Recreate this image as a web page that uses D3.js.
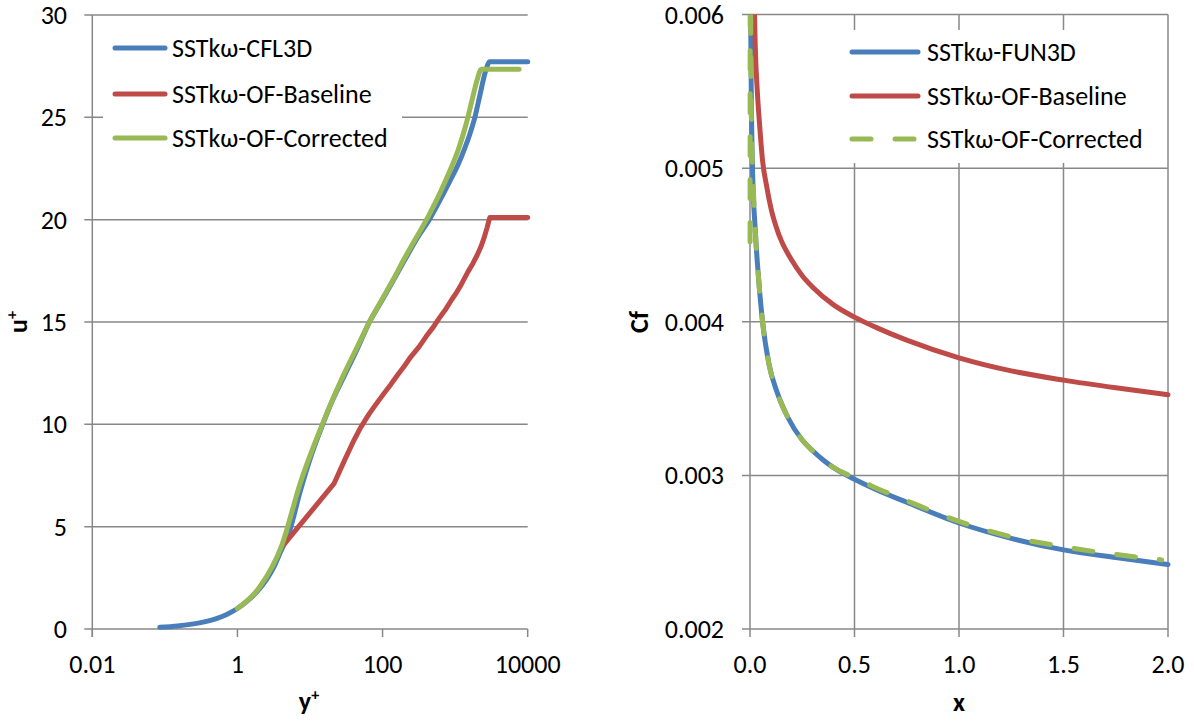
<!DOCTYPE html>
<html><head><meta charset="utf-8">
<script src="https://cdn.jsdelivr.net/npm/d3@7"></script>
<style>
body{margin:0;background:#fff}
text{font-family:Carlito,Calibri,Lato,sans-serif;fill:#000}
</style>
</head><body>
<svg id="c" width="1194" height="723"></svg>
<script>
// ---------- Left chart data: u+ vs y+ ----------
const leftNames = ["SSTkω-CFL3D", "SSTkω-OF-Baseline", "SSTkω-OF-Corrected"];
const leftYTicks = [0, 5, 10, 15, 20, 25, 30];
const leftXTicks = [0.01, 1, 100, 10000];
const cfl3d = [[0.085,0.085],[0.15,0.15],[0.3,0.3],[0.5,0.5],[0.7,0.7],[1,1],[1.4,1.4],[1.84,1.8],[2.5,2.4],[3.2,3.05],[3.85,3.7],[5.3,4.85],[7.3,6.7],[10,8.3],[15,10],[20,11.1],[30,12.4],[45,13.7],[66,15],[100,16.1],[139,17.0],[200,18.0],[300,19.1],[432,19.95],[617,20.95],[850,21.9],[1100,22.7],[1360,23.5],[1600,24.2],[1870,25.0],[2200,26.1],[2600,27.2],[3000,27.72],[10000,27.72]];
const ofBaseline1 = [[4.3,4.1],[21.4,7.1],[30,8.25],[40,9.2],[50,9.85],[65,10.5],[80,10.95],[104,11.5],[130,11.95],[160,12.4],[200,12.85],[245,13.3],[320,13.8],[400,14.3],[500,14.75],[607,15.2],[750,15.65],[900,16.1],[1050,16.45],[1200,16.8],[1500,17.45],[1750,17.85],[2000,18.25],[2250,18.65],[2500,19.1],[2750,19.6],[3000,20.1],[10000,20.1]];
const ofCorrected1 = [[1,1],[1.98,2.0],[4.1,4.1],[7.3,7.1],[15.2,10.1],[28,12.3],[45,13.8],[66,15],[100,16.15],[139,17.05],[200,18.1],[300,19.2],[432,20.2],[617,21.3],[850,22.4],[1100,23.4],[1400,24.6],[1700,25.8],[2000,26.8],[2300,27.35],[7600,27.35]];

// ---------- Right chart data: Cf vs x ----------
const rightNames = ["SSTkω-FUN3D", "SSTkω-OF-Baseline", "SSTkω-OF-Corrected"];
const rightYTicks = [0.002, 0.003, 0.004, 0.005, 0.006];
const rightXTicks = [0.0, 0.5, 1.0, 1.5, 2.0];
const fun3d = [[0.0,0.0064],[0.003,0.0060],[0.006,0.0055],[0.012,0.0050],[0.025,0.0046],[0.04,0.0043],[0.06,0.0040],[0.09,0.00373],[0.13,0.00354],[0.18,0.00338],[0.25,0.00323],[0.3,0.00316],[0.35,0.00310],[0.4,0.00305],[0.5,0.002975],[0.6,0.00291],[0.75,0.002825],[1.0,0.00269],[1.25,0.00259],[1.5,0.002515],[1.75,0.002465],[2.0,0.00242]];
const ofBaseline2 = [[0.02,0.0061],[0.025,0.0058],[0.035,0.0055],[0.045,0.0053],[0.06,0.00505],[0.08,0.00488],[0.1,0.00474],[0.14,0.00456],[0.2,0.00440],[0.25,0.00430],[0.3,0.004225],[0.4,0.00411],[0.5,0.00403],[0.6,0.003965],[0.75,0.00388],[1.0,0.003765],[1.25,0.00368],[1.5,0.00362],[1.75,0.00357],[2.0,0.003525]];
const ofCorrected2 = [[0.0003,0.00452],[0.0015,0.0068],[0.004,0.0058],[0.008,0.0052],[0.015,0.0049],[0.025,0.0046],[0.04,0.0043],[0.06,0.0040],[0.09,0.00373],[0.13,0.00354],[0.18,0.00338],[0.25,0.00323],[0.3,0.00316],[0.35,0.00310],[0.4,0.00305],[0.5,0.002985],[0.6,0.00292],[0.75,0.002835],[1.0,0.0027],[1.25,0.0026],[1.5,0.002535],[1.75,0.002485],[1.97,0.00245]];

const colors = ["#4A7EBB", "#BE4B48", "#98B954"];
const gridColor = "#888888";
const FS = 26;

const svg = d3.select("#c");

// ================= LEFT =================
const xL = d3.scaleLog().domain([0.01, 10000]).range([92.3, 527.7]);
const yL = d3.scaleLinear().domain([0, 30]).range([629, 15]);

const gL = svg.append("g");
gL.selectAll("line.h").data(leftYTicks).join("line")
  .attr("x1", xL.range()[0] - 8).attr("x2", xL.range()[1])
  .attr("y1", d => yL(d)).attr("y2", d => yL(d))
  .attr("stroke", gridColor).attr("stroke-width", 1.5);
gL.append("line").attr("x1", xL.range()[0]).attr("x2", xL.range()[0])
  .attr("y1", yL(30)).attr("y2", yL(0) + 8)
  .attr("stroke", gridColor).attr("stroke-width", 1.5);
gL.selectAll("line.t").data(leftXTicks).join("line")
  .attr("x1", d => xL(d)).attr("x2", d => xL(d))
  .attr("y1", yL(0)).attr("y2", yL(0) + 8)
  .attr("stroke", gridColor).attr("stroke-width", 1.5);
gL.selectAll("text.yt").data(leftYTicks).join("text")
  .attr("x", 67).attr("y", d => yL(d)).attr("dy", "0.35em")
  .attr("text-anchor", "end").attr("font-size", FS).text(d => d);
gL.selectAll("text.xt").data(leftXTicks).join("text")
  .attr("x", d => xL(d)).attr("y", 664).attr("dy", "0.35em")
  .attr("text-anchor", "middle").attr("font-size", FS).text(d => d);
const uT = gL.append("text").attr("transform", "translate(27,322) rotate(-90)")
  .attr("text-anchor", "middle").attr("font-weight", "bold").attr("font-size", FS);
uT.append("tspan").text("u");
uT.append("tspan").attr("font-size", 16).attr("dy", -10).text("+");
const yT = gL.append("text").attr("x", 309).attr("y", 710)
  .attr("text-anchor", "middle").attr("font-weight", "bold").attr("font-size", FS);
yT.append("tspan").text("y");
yT.append("tspan").attr("font-size", 16).attr("dy", -10).text("+");

const lineSmooth = d3.line().x(d => xL(d[0])).y(d => yL(d[1])).curve(d3.curveMonotoneX);
const lineStraight = d3.line().x(d => xL(d[0])).y(d => yL(d[1])).curve(d3.curveLinear);
[[cfl3d, lineSmooth], [ofBaseline1, lineStraight], [ofCorrected1, lineSmooth]].forEach(([s, gen], i) => {
  gL.append("path").datum(s).attr("d", gen)
    .attr("fill", "none").attr("stroke", colors[i]).attr("stroke-width", 5)
    .attr("stroke-linecap", "round").attr("stroke-linejoin", "round");
});
gL.append("rect").attr("x", 103).attr("y", 25).attr("width", 299).attr("height", 136).attr("fill", "#fff");
const legLY = [48, 94, 138];
leftNames.forEach((n, i) => {
  gL.append("line").attr("x1", 115).attr("x2", 165).attr("y1", legLY[i]).attr("y2", legLY[i])
    .attr("stroke", colors[i]).attr("stroke-width", 5).attr("stroke-linecap", "round");
  gL.append("text").attr("x", 172).attr("y", legLY[i]).attr("dy", "0.35em")
    .attr("font-size", FS).text(n);
});

// ================= RIGHT =================
const xR = d3.scaleLinear().domain([0, 2]).range([750, 1168]);
const yR = d3.scaleLinear().domain([0.002, 0.006]).range([629, 14.5]);
const gR = svg.append("g");
gR.selectAll("line.h").data(rightYTicks).join("line")
  .attr("x1", xR(0) - 8).attr("x2", xR(2))
  .attr("y1", d => yR(d)).attr("y2", d => yR(d))
  .attr("stroke", gridColor).attr("stroke-width", 1.5);
gR.selectAll("line.v").data(rightXTicks).join("line")
  .attr("x1", d => xR(d)).attr("x2", d => xR(d))
  .attr("y1", yR(0.006)).attr("y2", yR(0.002) + 8)
  .attr("stroke", gridColor).attr("stroke-width", 1.5);
gR.selectAll("text.yt").data(rightYTicks).join("text")
  .attr("x", 724).attr("y", d => yR(d)).attr("dy", "0.35em")
  .attr("text-anchor", "end").attr("font-size", FS).text(d => d3.format(".3f")(d));
gR.selectAll("text.xt").data(rightXTicks).join("text")
  .attr("x", d => xR(d)).attr("y", 664).attr("dy", "0.35em")
  .attr("text-anchor", "middle").attr("font-size", FS).text(d => d3.format(".1f")(d));
gR.append("text").attr("transform", "translate(648,322) rotate(-90)")
  .attr("text-anchor", "middle").attr("font-weight", "bold").attr("font-size", FS).text("Cf");
gR.append("text").attr("x", 959).attr("y", 711)
  .attr("text-anchor", "middle").attr("font-weight", "bold").attr("font-size", FS).text("x");

svg.append("clipPath").attr("id", "clipR").append("rect")
  .attr("x", 700).attr("y", yR(0.006)).attr("width", 494).attr("height", yR(0.002) - yR(0.006) + 10);
const lineR = d3.line().x(d => xR(d[0])).y(d => yR(d[1])).curve(d3.curveMonotoneX);
[fun3d, ofBaseline2, ofCorrected2].forEach((s, i) => {
  const p = gR.append("path").datum(s).attr("d", lineR)
    .attr("clip-path", "url(#clipR)")
    .attr("fill", "none").attr("stroke", colors[i]).attr("stroke-width", 5)
    .attr("stroke-linecap", "round").attr("stroke-linejoin", "round");
  if (i === 2) p.attr("stroke-dasharray", "19,24");
});
gR.append("rect").attr("x", 840).attr("y", 30).attr("width", 316).attr("height", 133).attr("fill", "#fff");
const legRY = [52, 96, 139];
rightNames.forEach((n, i) => {
  const l = gR.append("line").attr("x1", 852).attr("x2", 918).attr("y1", legRY[i]).attr("y2", legRY[i])
    .attr("stroke", colors[i]).attr("stroke-width", 5).attr("stroke-linecap", "round");
  if (i === 2) l.attr("stroke-dasharray", "19,24");
  gR.append("text").attr("x", 927).attr("y", legRY[i]).attr("dy", "0.35em")
    .attr("font-size", FS).text(n);
});
</script>
</body></html>
